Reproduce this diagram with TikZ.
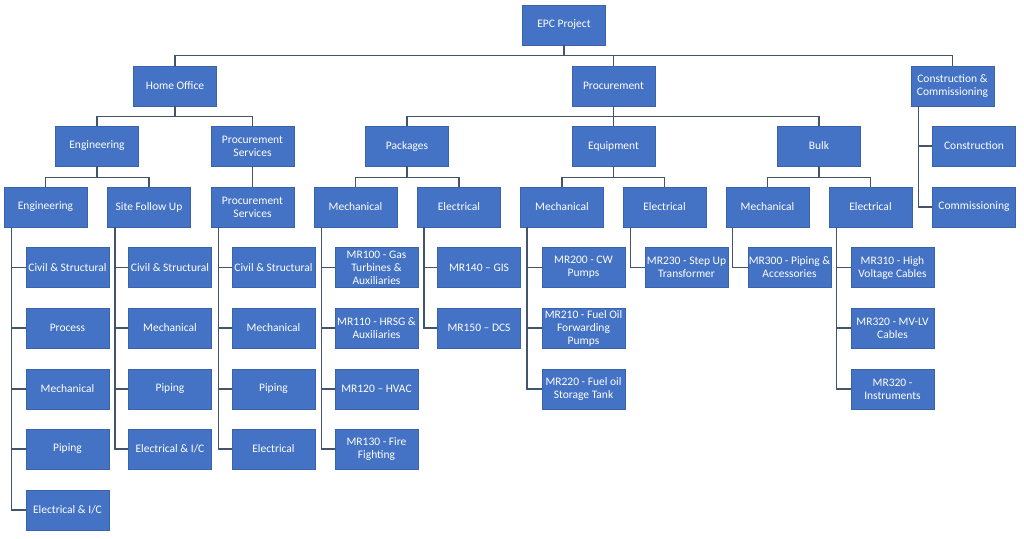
\documentclass[tikz,border=0pt]{standalone}
\usepackage{fontspec}
\setmainfont{Carlito}
\usetikzlibrary{calc}
\definecolor{boxfill}{HTML}{4472C4}
\definecolor{boxline}{HTML}{3A63AC}
\definecolor{linec}{HTML}{44546A}
\tikzset{
  box/.style={rectangle, fill=boxfill, draw=boxline, line width=0.8pt,
    minimum width=83pt, minimum height=40pt, inner sep=0pt, text=white,
    align=center, font=\fontsize{11.5pt}{13pt}\selectfont},
  conn/.style={draw=linec, line width=1.7pt}
}
\begin{document}
\begin{tikzpicture}[x=1pt,y=-1pt]
\useasboundingbox (0,0) rectangle (1024,538);
% level 0/1
\node[box] (epc) at (564,25) {EPC Project};
\node[box] (ho) at (175,86) {Home Office};
\node[box] (proc) at (613.5,86) {Procurement};
\node[box] (cc) at (952.5,86) {Construction \&\\Commissioning};
% level 2
\node[box] (eng) at (97,146) {Engineering};
\node[box] (ps) at (252.5,146) {Procurement\\Services};
\node[box] (pkg) at (407,146) {Packages};
\node[box] (equip) at (613.5,146) {Equipment};
\node[box] (bulk) at (819,146) {Bulk};
\node[box] (cons) at (974,146) {Construction};
% level 3
\node[box] (engb) at (45.5,207) {Engineering};
\node[box] (sfu) at (149,207) {Site Follow Up};
\node[box] (psb) at (252.5,207) {Procurement\\Services};
\node[box] (pkm) at (355.5,207) {Mechanical};
\node[box] (pke) at (459,207) {Electrical};
\node[box] (eqm) at (562,207) {Mechanical};
\node[box] (eqe) at (664.5,207) {Electrical};
\node[box] (bkm) at (767.5,207) {Mechanical};
\node[box] (bke) at (870.5,207) {Electrical};
\node[box] (comm) at (974,207) {Commissioning};
% leaves: engineering
\node[box] (e1) at (67.5,267.5) {Civil \& Structural};
\node[box] (e2) at (67.5,328) {Process};
\node[box] (e3) at (67.5,389) {Mechanical};
\node[box] (e4) at (67.5,449) {Piping};
\node[box] (e5) at (67.5,510) {Electrical \& I/C};
% site follow up
\node[box] (s1) at (170,267.5) {Civil \& Structural};
\node[box] (s2) at (170,328) {Mechanical};
\node[box] (s3) at (170,389) {Piping};
\node[box] (s4) at (170,449) {Electrical \& I/C};
% procurement services
\node[box] (p1) at (273.5,267.5) {Civil \& Structural};
\node[box] (p2) at (273.5,328) {Mechanical};
\node[box] (p3) at (273.5,389) {Piping};
\node[box] (p4) at (273.5,449) {Electrical};
% packages mechanical
\node[box] (m1) at (376.5,267.5) {MR100 - Gas\\Turbines \&\\Auxiliaries};
\node[box] (m2) at (376.5,328) {MR110 - HRSG \&\\Auxiliaries};
\node[box] (m3) at (376.5,389) {MR120 -- HVAC};
\node[box] (m4) at (376.5,449) {MR130 - Fire\\Fighting};
% packages electrical
\node[box] (n1) at (479,267.5) {MR140 -- GIS};
\node[box] (n2) at (479,328) {MR150 -- DCS};
% equipment mechanical
\node[box] (q1) at (583.5,267.5) {MR200 - CW\\Pumps};
\node[box] (q2) at (583.5,328) {MR210 - Fuel Oil\\Forwarding\\Pumps};
\node[box] (q3) at (583.5,389) {MR220 - Fuel oil\\Storage Tank};
% equipment electrical
\node[box] (r1) at (686.5,267.5) {MR230 - Step Up\\Transformer};
% bulk mechanical
\node[box] (b1) at (789.5,267.5) {MR300 - Piping \&\\Accessories};
% bulk electrical
\node[box] (c1) at (892.5,267.5) {MR310 - High\\Voltage Cables};
\node[box] (c2) at (892.5,328) {MR320 - MV-LV\\Cables};
\node[box] (c3) at (892.5,389) {MR320 -\\Instruments};

% tree connectors
\foreach \c in {ho,proc,cc} \draw[conn] (epc.south) -- ++(0,10) -| (\c.north);
\foreach \c in {eng,ps} \draw[conn] (ho.south) -- ++(0,10) -| (\c.north);
\foreach \c in {pkg,equip,bulk} \draw[conn] (proc.south) -- ++(0,10) -| (\c.north);
\foreach \c in {engb,sfu} \draw[conn] (eng.south) -- ++(0,11) -| (\c.north);
\draw[conn] (ps.south) -- (psb.north);
\foreach \c in {pkm,pke} \draw[conn] (pkg.south) -- ++(0,11) -| (\c.north);
\foreach \c in {eqm,eqe} \draw[conn] (equip.south) -- ++(0,11) -| (\c.north);
\foreach \c in {bkm,bke} \draw[conn] (bulk.south) -- ++(0,11) -| (\c.north);
% side connectors
\foreach \c in {cons,comm} \draw[conn] ([xshift=8pt]cc.south west) |- (\c.west);
\foreach \c in {e1,e2,e3,e4,e5} \draw[conn] ([xshift=8pt]engb.south west) |- (\c.west);
\foreach \c in {s1,s2,s3,s4} \draw[conn] ([xshift=8pt]sfu.south west) |- (\c.west);
\foreach \c in {p1,p2,p3,p4} \draw[conn] ([xshift=8pt]psb.south west) |- (\c.west);
\foreach \c in {m1,m2,m3,m4} \draw[conn] ([xshift=8pt]pkm.south west) |- (\c.west);
\foreach \c in {n1,n2} \draw[conn] ([xshift=7pt]pke.south west) |- (\c.west);
\foreach \c in {q1,q2,q3} \draw[conn] ([xshift=7pt]eqm.south west) |- (\c.west);
\draw[conn] ([xshift=8pt]eqe.south west) |- (r1.west);
\draw[conn] ([xshift=7pt]bkm.south west) |- (b1.west);
\foreach \c in {c1,c2,c3} \draw[conn] ([xshift=8pt]bke.south west) |- (\c.west);
\end{tikzpicture}
\end{document}
